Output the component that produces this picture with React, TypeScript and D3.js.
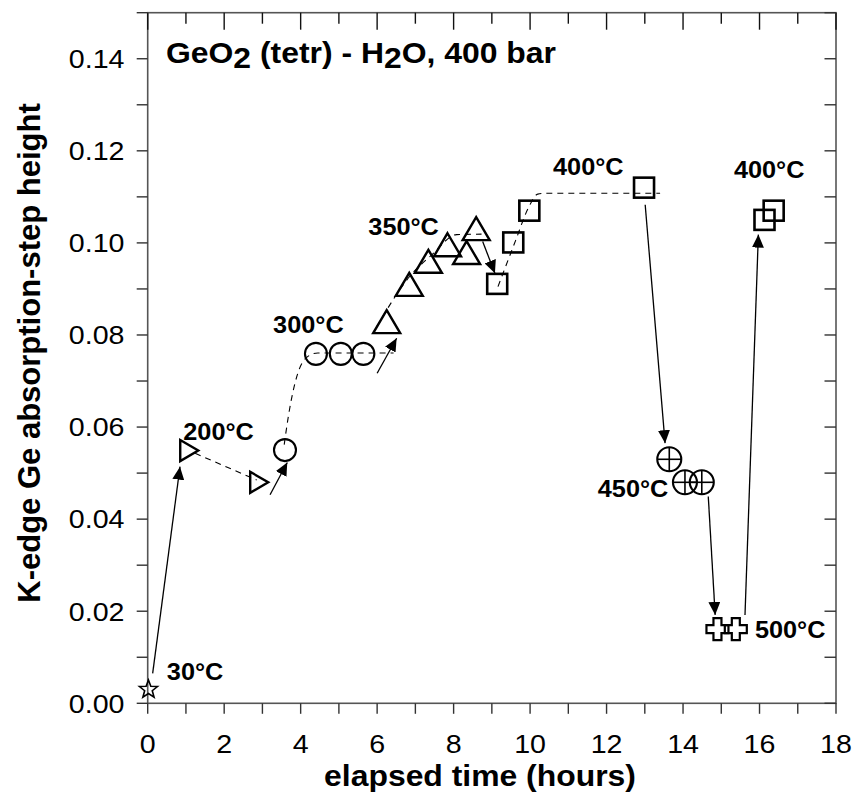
import React from "react";
import * as d3 from "d3";

// ---------- data (elapsed time in hours, step height) ----------
const star30: [number, number][] = [[0.02, 0.003]];
const tri200: [number, number][] = [[1.06, 0.0549], [2.89, 0.048]];
const circ300: [number, number][] = [[3.59, 0.055], [4.4, 0.0759], [5.05, 0.0759], [5.64, 0.0759]];
const tri350: [number, number][] = [[6.25, 0.0829], [6.84, 0.091], [7.34, 0.096], [7.84, 0.0996], [8.34, 0.0979], [8.59, 0.1031]];
const sq400a: [number, number][] = [[9.14, 0.0911], [9.56, 0.1001], [9.98, 0.107], [12.98, 0.112]];
const cc450: [number, number][] = [[13.64, 0.053], [14.05, 0.048], [14.49, 0.048]];
const cross500: [number, number][] = [[14.9, 0.0161], [15.38, 0.0161]];
const sq400b: [number, number][] = [[16.13, 0.105], [16.37, 0.107]];

// dashed guide curves
const dash200: [number, number][] = [[1.24, 0.0543], [2.85, 0.0485]];
const dash300: [number, number][] = [[3.57, 0.0562], [3.68, 0.0624], [3.9, 0.071], [4.2, 0.0754], [4.45, 0.0761], [6.43, 0.0761]];
const dash350: [number, number][] = [[5.99, 0.0818], [6.85, 0.0927], [7.43, 0.0974], [8.08, 0.1018], [8.73, 0.1019]];
const dash400: [number, number][] = [[9.16, 0.0905], [9.62, 0.1005], [9.95, 0.1075], [10.2, 0.1106], [10.45, 0.1108], [13.4, 0.1108]];

// arrows [from, to]
const arrows: [number, number, number, number][] = [
  [0.13, 0.0065, 0.845, 0.0514],
  [3.2, 0.0453, 3.65, 0.0523],
  [6.0, 0.0717, 6.51, 0.0793],
  [8.76, 0.1003, 9.08, 0.0934],
  [13.01, 0.1083, 13.53, 0.0565],
  [14.66, 0.0449, 14.84, 0.0192],
  [15.62, 0.0192, 15.97, 0.1018],
];

// temperature labels
const labels: { t: number; v: number; text: string }[] = [
  { t: 0.5, v: 0.00515, text: "30°C" },
  { t: 0.93, v: 0.0572, text: "200°C" },
  { t: 3.28, v: 0.0805, text: "300°C" },
  { t: 5.77, v: 0.1018, text: "350°C" },
  { t: 10.6, v: 0.1148, text: "400°C" },
  { t: 15.33, v: 0.1141, text: "400°C" },
  { t: 11.77, v: 0.0449, text: "450°C" },
  { t: 15.88, v: 0.0141, text: "500°C" },
];

const xTicks = d3.range(0, 19, 1);
const xLabels = d3.range(0, 19, 2);
const yTicks = d3.range(0, 0.1501, 0.01);
const yLabels = [0, 0.02, 0.04, 0.06, 0.08, 0.1, 0.12, 0.14];

// ---------- layout ----------
const W = 857, H = 799;
const L = 147.7, R = 836, T = 12.7, B = 703.3;
const SX = 1.1;
const FONT = "'Liberation Sans', Arial, Helvetica, sans-serif";

const x = d3.scaleLinear().domain([0, 18]).range([L, R]);
const y = d3.scaleLinear().domain([0, 0.15]).range([B, T]);

const curve = d3.line<[number, number]>().x(d => x(d[0])).y(d => y(d[1])).curve(d3.curveMonotoneX);

function starPath(cx: number, cy: number, ro: number, ri: number) {
  const pts: string[] = [];
  for (let i = 0; i < 10; i++) {
    const r = i % 2 === 0 ? ro : ri;
    const a = -Math.PI / 2 + (i * Math.PI) / 5;
    pts.push(`${cx + r * Math.cos(a)},${cy + r * Math.sin(a)}`);
  }
  return "M" + pts.join("L") + "Z";
}

function crossPath(cx: number, cy: number, a: number, w: number) {
  const p = [
    [-w, -a], [w, -a], [w, -w], [a, -w], [a, w], [w, w], [w, a], [-w, a], [-w, w], [-a, w], [-a, -w], [-w, -w],
  ];
  return "M" + p.map(q => `${cx + q[0]},${cy + q[1]}`).join("L") + "Z";
}

const Txt = (p: { x: number; y: number; size: number; bold?: boolean; anchor?: string; children: any }) => (
  <text
    transform={`translate(${p.x},${p.y}) scale(${SX},1)`}
    fontSize={p.size}
    fontWeight={p.bold ? "bold" : "normal"}
    textAnchor={p.anchor || "start"}
    fontFamily={FONT}
    fill="#000"
  >
    {p.children}
  </text>
);

export default function App() {
  const ms = 2.4;
  return (
    <svg width={W} height={H} style={{ position: "absolute", left: 0, top: 0, background: "#fff" }}>
      <defs>
        <marker id="ah" markerUnits="userSpaceOnUse" markerWidth={14} markerHeight={12} refX={13} refY={6} orient="auto">
          <path d="M0,0 L13,6 L0,12 Z" fill="#000" />
        </marker>
      </defs>
      <rect x={0} y={0} width={W} height={H} fill="#fff" />

      {/* frame */}
      <rect x={L} y={T} width={R - L} height={B - T} fill="none" stroke="#555" strokeWidth={1.6} />

      {/* ticks */}
      {xTicks.map(t => (
        <g key={"xt" + t}>
          <line x1={x(t)} x2={x(t)} y1={B} y2={B + 10.5} stroke="#333" strokeWidth={1.4} />
          <line x1={x(t)} x2={x(t)} y1={T} y2={T + (t % 2 === 0 ? 17 : 11)} stroke="#111" strokeWidth={1.4} />
        </g>
      ))}
      {yTicks.map(v => (
        <g key={"yt" + v}>
          <line x1={L - 11} x2={L} y1={y(v)} y2={y(v)} stroke="#333" strokeWidth={1.4} />
          <line x1={R - 11.5} x2={R} y1={y(v)} y2={y(v)} stroke="#333" strokeWidth={1.4} />
        </g>
      ))}
      {xLabels.map(t => (
        <Txt key={"xl" + t} x={x(t)} y={753} size={26} anchor="middle">{String(t)}</Txt>
      ))}
      {yLabels.map(v => (
        <Txt key={"yl" + v} x={124.5} y={y(v) + 9.3} size={26} anchor="end">{v.toFixed(2)}</Txt>
      ))}

      {/* axis titles */}
      <Txt x={480} y={786} size={29} bold anchor="middle">elapsed time (hours)</Txt>
      <text
        transform={`translate(39.5,353) rotate(-90)`}
        fontSize={31}
        fontWeight="bold"
        textAnchor="middle"
        fontFamily={FONT}
      >
        K-edge Ge absorption-step height
      </text>

      {/* chart title */}
      <text transform={`translate(166,63.3) scale(${SX},1)`} fontSize={29} fontWeight="bold" fontFamily={FONT}>
        <tspan>GeO</tspan>
        <tspan dy={5}>2</tspan>
        <tspan dy={-5}> (tetr) - H</tspan>
        <tspan dy={5}>2</tspan>
        <tspan dy={-5}>O, 400 bar</tspan>
      </text>

      {/* dashed guides */}
      {[dash200, dash300, dash350, dash400].map((d, i) => (
        <path key={"d" + i} d={curve(d) || ""} fill="none" stroke="#000" strokeWidth={1.1} strokeDasharray="6,5" />
      ))}

      {/* arrows */}
      {arrows.map((a, i) => (
        <line key={"a" + i} x1={x(a[0])} y1={y(a[1])} x2={x(a[2])} y2={y(a[3])} stroke="#000" strokeWidth={1.3} markerEnd="url(#ah)" />
      ))}

      {/* markers */}
      {star30.map((d, i) => (
        <path key={"s" + i} d={starPath(x(d[0]), y(d[1]), 9.5, 4)} fill="none" stroke="#000" strokeWidth={1.6} />
      ))}
      {tri200.map((d, i) => {
        const cx = x(d[0]), cy = y(d[1]);
        return <path key={"tr" + i} d={`M${cx - 8},${cy - 10.5}L${cx + 10},${cy}L${cx - 8},${cy + 10.5}Z`} fill="none" stroke="#000" strokeWidth={ms} />;
      })}
      {circ300.map((d, i) => (
        <circle key={"c" + i} cx={x(d[0])} cy={y(d[1])} r={11} fill="none" stroke="#000" strokeWidth={2.1} />
      ))}
      {tri350.map((d, i) => {
        const cx = x(d[0]), cy = y(d[1]);
        return <path key={"tu" + i} d={`M${cx},${cy - 11.5}L${cx + 13.5},${cy + 11.5}L${cx - 13.5},${cy + 11.5}Z`} fill="none" stroke="#000" strokeWidth={ms} />;
      })}
      {[...sq400a, ...sq400b].map((d, i) => (
        <rect key={"sq" + i} x={x(d[0]) - 10} y={y(d[1]) - 10} width={20} height={20} fill="none" stroke="#000" strokeWidth={2.6} />
      ))}
      {cc450.map((d, i) => {
        const cx = x(d[0]), cy = y(d[1]);
        return (
          <g key={"cc" + i} fill="none" stroke="#000" strokeWidth={2.1}>
            <circle cx={cx} cy={cy} r={12} />
            <line x1={cx - 12} x2={cx + 12} y1={cy} y2={cy} strokeWidth={1.6} />
            <line x1={cx} x2={cx} y1={cy - 12} y2={cy + 12} strokeWidth={1.6} />
          </g>
        );
      })}
      {cross500.map((d, i) => (
        <path key={"x" + i} d={crossPath(x(d[0]), y(d[1]), 11, 4)} fill="none" stroke="#000" strokeWidth={2.2} />
      ))}

      {/* temperature labels */}
      {labels.map((l, i) => (
        <Txt key={"l" + i} x={x(l.t)} y={y(l.v)} size={23} bold>{l.text}</Txt>
      ))}
    </svg>
  );
}
